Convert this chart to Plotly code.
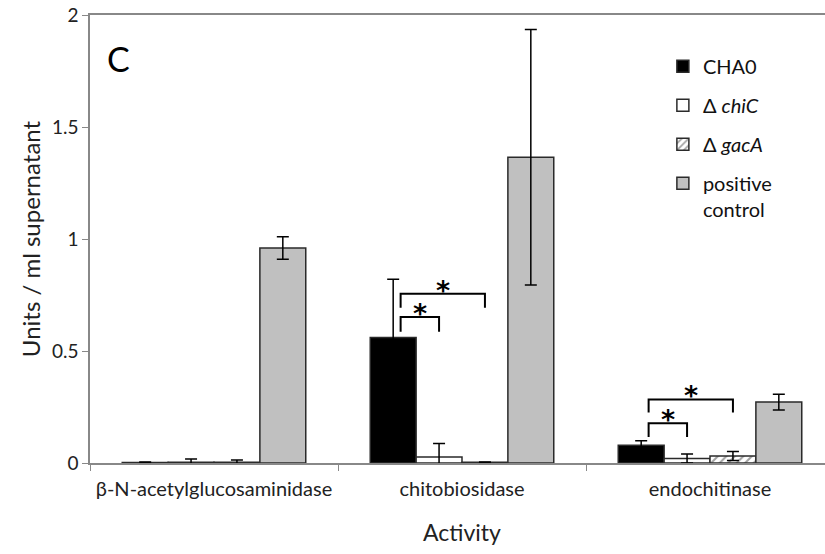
import plotly.graph_objects as go

categories = ["β-N-acetylglucosaminidase", "chitobiosidase", "endochitinase"]
series_names = ["CHA0", "Δ <i>chiC</i>", "Δ <i>gacA</i>", "positive<br>control"]
cha0 = [0.002, 0.56, 0.079]
cha0_err = [0.002, 0.26, 0.02]
chic = [0.003, 0.027, 0.02]
chic_err = [0.015, 0.06, 0.02]
gaca = [0.003, 0.003, 0.031]
gaca_err = [0.01, 0.002, 0.02]
posctrl = [0.96, 1.365, 0.272]
posctrl_err = [0.05, 0.57, 0.035]

# significance brackets: (category index, series a, series b, top value, leg bottom value)
sig_cat = [1, 1, 2, 2]
sig_a = [0, 0, 0, 0]
sig_b = [1, 2, 1, 2]
sig_top = [0.652, 0.756, 0.177, 0.284]
sig_leg = [0.586, 0.693, 0.116, 0.225]

values = [cha0, chic, gaca, posctrl]
errors = [cha0_err, chic_err, gaca_err, posctrl_err]
fills = ["#000000", "#ffffff", "#ffffff", "#c0c0c0"]

fig = go.Figure()
for i in range(4):
    marker = dict(color=fills[i], line=dict(color="#2a2a2a", width=1.5))
    if i == 2:
        marker["pattern"] = dict(shape="/", fgcolor="#444444", bgcolor="#ffffff", size=6, solidity=0.35)
    fig.add_trace(go.Bar(
        x=categories, y=values[i], name=series_names[i], legendgroup=f"g{i}",
        marker=marker,
        error_y=dict(type="data", array=errors[i], color="#000000", thickness=1.5, width=6),
    ))

bargap = 0.26
nb = 4
bw = (1 - bargap) / nb
def bar_x(cat, s):
    return cat + (s - (nb - 1) / 2) * bw

for c, a, b, top, leg in zip(sig_cat, sig_a, sig_b, sig_top, sig_leg):
    x0 = bar_x(c, a) + 0.03
    x1 = bar_x(c, b)
    fig.add_shape(type="path",
                  path=f"M {x0},{leg} L {x0},{top} L {x1},{top} L {x1},{leg}",
                  xref="x", yref="y", line=dict(color="#000000", width=2))
    fig.add_annotation(x=(x0 + x1) / 2, y=top, text="<b>*</b>", showarrow=False,
                       yanchor="bottom", yshift=-14,
                       font=dict(size=27, color="#000000", family="DejaVu Sans"))

fig.add_annotation(x=0.02, y=0.904, xref="paper", yref="paper", text="C", showarrow=False,
                   xanchor="left", yanchor="middle", font=dict(size=34, color="#000000"))

font_family = "Lato, 'Open Sans', sans-serif"
fig.update_layout(
    width=834, height=554,
    margin=dict(l=90, r=0, t=15, b=91),
    paper_bgcolor="white", plot_bgcolor="white",
    barmode="group", bargap=bargap, bargroupgap=0,
    font=dict(family=font_family, size=19, color="#222222"),
    showlegend=True,
    legend=dict(x=0.77, y=0.929, xanchor="left", yanchor="top", bgcolor="rgba(0,0,0,0)",
                font=dict(size=20, color="#111111"), tracegroupgap=10, valign="top"),
    xaxis=dict(type="category", tickson="boundaries", ticks="outside", ticklen=6, tickcolor="#888888",
               showline=True, linecolor="#888888", linewidth=1.5, mirror=True, showgrid=False,
               automargin=False, ticklabelstandoff=7,
               title=dict(text="Activity", font=dict(size=23), standoff=26),
               tickfont=dict(size=20), range=[-0.5, 2.5]),
    yaxis=dict(range=[0, 2], tickvals=[0, 0.5, 1, 1.5, 2], ticktext=["0", "0.5", "1", "1.5", "2"],
               ticks="outside", ticklen=6, tickcolor="#888888", showline=True, linecolor="#888888",
               linewidth=1.5, showgrid=False, zeroline=False, automargin=False,
               ticklabeloverflow="allow",
               title=dict(text="Units / ml supernatant", font=dict(size=24), standoff=5),
               tickfont=dict(size=19)),
)

fig.write_html("out.html", config={"displayModeBar": False},
               post_script="document.body.style.margin='0';document.body.style.overflow='hidden';")
